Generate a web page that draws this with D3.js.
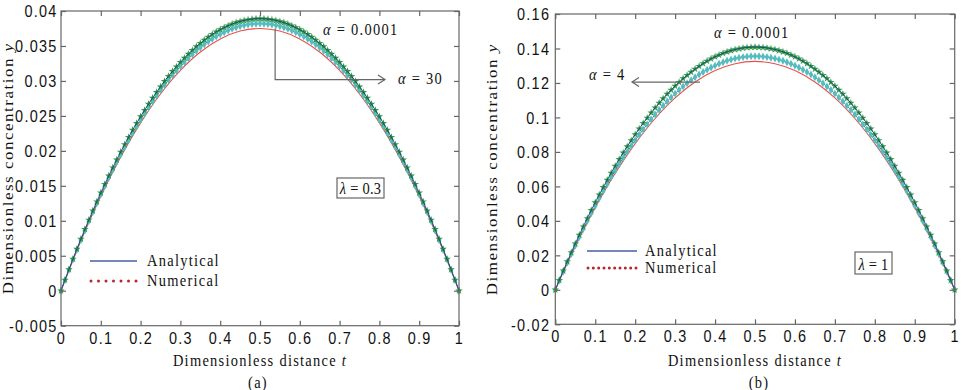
<!DOCTYPE html>
<html>
<head>
<meta charset="utf-8">
<script src="https://cdn.jsdelivr.net/npm/d3@7"></script>
<style>
  body { margin: 0; background: #fff; }
  svg { display: block; font-family: "Liberation Serif", "Times New Roman", serif; }
</style>
</head>
<body>
<div id="chart"></div>
<script>
/*------ data ------*/
const xTicks = [0, 0.1, 0.2, 0.3, 0.4, 0.5, 0.6, 0.7, 0.8, 0.9, 1];
const xTickLabels = ["0", "0.1", "0.2", "0.3", "0.4", "0.5", "0.6", "0.7", "0.8", "0.9", "1"];

const yTicksA = [-0.005, 0, 0.005, 0.01, 0.015, 0.02, 0.025, 0.03, 0.035, 0.04];
const yTickLabelsA = ["-0.005", "0", "0.005", "0.01", "0.015", "0.02", "0.025", "0.03", "0.035", "0.04"];
const yTicksB = [-0.02, 0, 0.02, 0.04, 0.06, 0.08, 0.1, 0.12, 0.14, 0.16];
const yTickLabelsB = ["-0.02", "0", "0.02", "0.04", "0.06", "0.08", "0.1", "0.12", "0.14", "0.16"];

// (a) lambda = 0.3, numerical points at t = 0, 0.01, ... 1
const numTopA = [0, 0.00154, 0.00305, 0.00453, 0.00598, 0.00739, 0.00878, 0.01013, 0.01145, 0.01274, 0.01400,
  0.01523, 0.01643, 0.01760, 0.01873, 0.01984, 0.02091, 0.02196, 0.02297, 0.02395, 0.02490,
  0.02581, 0.02670, 0.02756, 0.02838, 0.02918, 0.02994, 0.03067, 0.03137, 0.03204, 0.03268,
  0.03328, 0.03386, 0.03440, 0.03492, 0.03540, 0.03585, 0.03627, 0.03666, 0.03702, 0.03734,
  0.03764, 0.03790, 0.03814, 0.03834, 0.03851, 0.03865, 0.03876, 0.03884, 0.03888, 0.03890,
  0.03888, 0.03884, 0.03876, 0.03865, 0.03851, 0.03834, 0.03814, 0.03790, 0.03764, 0.03734,
  0.03702, 0.03666, 0.03627, 0.03585, 0.03540, 0.03492, 0.03440, 0.03386, 0.03328, 0.03268,
  0.03204, 0.03137, 0.03067, 0.02994, 0.02918, 0.02838, 0.02756, 0.02670, 0.02581, 0.02490,
  0.02395, 0.02297, 0.02196, 0.02091, 0.01984, 0.01873, 0.01760, 0.01643, 0.01523, 0.01400,
  0.01274, 0.01145, 0.01013, 0.00878, 0.00739, 0.00598, 0.00453, 0.00305, 0.00154, 0];
const numMidA = [0, 0.00151, 0.00299, 0.00445, 0.00587, 0.00726, 0.00862, 0.00995, 0.01125, 0.01251, 0.01375,
  0.01496, 0.01614, 0.01728, 0.01840, 0.01948, 0.02054, 0.02156, 0.02255, 0.02352, 0.02445,
  0.02535, 0.02622, 0.02706, 0.02787, 0.02865, 0.02940, 0.03012, 0.03080, 0.03146, 0.03209,
  0.03268, 0.03325, 0.03378, 0.03429, 0.03476, 0.03521, 0.03562, 0.03600, 0.03635, 0.03667,
  0.03696, 0.03722, 0.03745, 0.03765, 0.03782, 0.03796, 0.03806, 0.03814, 0.03818, 0.03820,
  0.03818, 0.03814, 0.03806, 0.03796, 0.03782, 0.03765, 0.03745, 0.03722, 0.03696, 0.03667,
  0.03635, 0.03600, 0.03562, 0.03521, 0.03476, 0.03429, 0.03378, 0.03325, 0.03268, 0.03209,
  0.03146, 0.03080, 0.03012, 0.02940, 0.02865, 0.02787, 0.02706, 0.02622, 0.02535, 0.02445,
  0.02352, 0.02255, 0.02156, 0.02054, 0.01948, 0.01840, 0.01728, 0.01614, 0.01496, 0.01375,
  0.01251, 0.01125, 0.00995, 0.00862, 0.00726, 0.00587, 0.00445, 0.00299, 0.00151, 0];
// analytical alpha = 30, t = 0, 0.05, ... 1
const anaLowA = [0, 0.00713, 0.0135, 0.01913, 0.024, 0.02813, 0.0315, 0.03413, 0.036, 0.03713, 0.0375,
  0.03713, 0.036, 0.03413, 0.0315, 0.02813, 0.024, 0.01913, 0.0135, 0.00713, 0];

// (b) lambda = 1
const numTopB = [0, 0.00558, 0.01104, 0.01639, 0.02163, 0.02675, 0.03176, 0.03666, 0.04145, 0.04613, 0.05069,
  0.05514, 0.05947, 0.06370, 0.06781, 0.07181, 0.07569, 0.07947, 0.08313, 0.08668, 0.09011,
  0.09343, 0.09665, 0.09974, 0.10273, 0.10560, 0.10836, 0.11101, 0.11354, 0.11596, 0.11827,
  0.12047, 0.12255, 0.12452, 0.12638, 0.12813, 0.12976, 0.13128, 0.13269, 0.13399, 0.13517,
  0.13624, 0.13720, 0.13804, 0.13877, 0.13939, 0.13990, 0.14029, 0.14057, 0.14074, 0.14080,
  0.14074, 0.14057, 0.14029, 0.13990, 0.13939, 0.13877, 0.13804, 0.13720, 0.13624, 0.13517,
  0.13399, 0.13269, 0.13128, 0.12976, 0.12813, 0.12638, 0.12452, 0.12255, 0.12047, 0.11827,
  0.11596, 0.11354, 0.11101, 0.10836, 0.10560, 0.10273, 0.09974, 0.09665, 0.09343, 0.09011,
  0.08668, 0.08313, 0.07947, 0.07569, 0.07181, 0.06781, 0.06370, 0.05947, 0.05514, 0.05069,
  0.04613, 0.04145, 0.03666, 0.03176, 0.02675, 0.02163, 0.01639, 0.01104, 0.00558, 0];
const numMidB = [0, 0.00537, 0.01062, 0.01577, 0.02081, 0.02575, 0.03057, 0.03528, 0.03989, 0.04439, 0.04878,
  0.05306, 0.05724, 0.06130, 0.06526, 0.06911, 0.07284, 0.07648, 0.08000, 0.08341, 0.08672,
  0.08992, 0.09301, 0.09599, 0.09886, 0.10163, 0.10428, 0.10683, 0.10927, 0.11160, 0.11382,
  0.11593, 0.11794, 0.11984, 0.12162, 0.12331, 0.12488, 0.12634, 0.12770, 0.12894, 0.13008,
  0.13111, 0.13203, 0.13284, 0.13355, 0.13415, 0.13463, 0.13501, 0.13528, 0.13545, 0.13550,
  0.13545, 0.13528, 0.13501, 0.13463, 0.13415, 0.13355, 0.13284, 0.13203, 0.13111, 0.13008,
  0.12894, 0.12770, 0.12634, 0.12488, 0.12331, 0.12162, 0.11984, 0.11794, 0.11593, 0.11382,
  0.11160, 0.10927, 0.10683, 0.10428, 0.10163, 0.09886, 0.09599, 0.09301, 0.08992, 0.08672,
  0.08341, 0.08000, 0.07648, 0.07284, 0.06911, 0.06526, 0.06130, 0.05724, 0.05306, 0.04878,
  0.04439, 0.03989, 0.03528, 0.03057, 0.02575, 0.02081, 0.01577, 0.01062, 0.00537, 0];
const anaLowB = [0, 0.02518, 0.0477, 0.06758, 0.0848, 0.09938, 0.1113, 0.12058, 0.1272, 0.13118, 0.1325,
  0.13118, 0.1272, 0.12058, 0.1113, 0.09938, 0.0848, 0.06758, 0.0477, 0.02518, 0];

/*------ look ------*/
const width = 962, height = 390;
const SX = 0.85, FS = 17, LS = 1.5;      // text is squeezed horizontally in the original
const frameCol = "#666", textCol = "#111";

const svg = d3.select("#chart").append("svg")
  .attr("width", width).attr("height", height);

// text helper: parts = [[string, italic], ...]
function label(g, x, y, parts, anchor, rotate, ls) {
  const t = g.append("text")
    .attr("transform", "translate(" + x + "," + y + ") scale(" + SX + ",1)" + (rotate ? " rotate(-90)" : ""))
    .attr("text-anchor", anchor || "start")
    .style("font-size", FS + "px")
    .style("letter-spacing", (ls == null ? LS : ls) + "px")
    .attr("fill", textCol);
  parts.forEach(p => t.append("tspan").text(p[0]).style("font-style", p[1] ? "italic" : null));
  return t;
}

function drawPanel(cfg) {
  const g = svg.append("g");
  const x = d3.scaleLinear().domain([0, 1]).range(cfg.xRange);
  const y = d3.scaleLinear().domain(cfg.yDomain).range(cfg.yRange);
  const [y0, y1] = cfg.yDomain;

  /*--- curves ---*/
  const line = arr => d3.line()
      .x((d, i) => x(i / (arr.length - 1)))
      .y(d => y(d))
      .curve(d3.curveCatmullRom)(arr);

  g.append("path").attr("d", line(cfg.low))
    .attr("fill", "none").attr("stroke", "#e8504a").attr("stroke-width", 1.1);
  g.append("path").attr("d", line(cfg.mid))
    .attr("fill", "none").attr("stroke", "#4d7fc0").attr("stroke-width", 1);

  g.append("g").selectAll("path").data(cfg.mid).enter().append("path")
    .attr("d", d3.symbol(d3.symbolDiamond, 18))
    .attr("transform", (d, i) => "translate(" + x(i / (cfg.mid.length - 1)) + "," + y(d) + ")")
    .attr("fill", "#55bcbf");

  g.append("g").selectAll("path").data(cfg.top).enter().append("path")
    .attr("d", d3.symbol(d3.symbolStar, 18))
    .attr("transform", (d, i) => "translate(" + x(i / (cfg.top.length - 1)) + "," + y(d) + ")")
    .attr("fill", "#2f9a48");
  g.append("path").attr("d", line(cfg.top))
    .attr("fill", "none").attr("stroke", "#1d3f7a").attr("stroke-width", 0.9);

  /*--- frame and axes ---*/
  g.append("rect")
    .attr("x", x(0)).attr("y", y(y1))
    .attr("width", x(1) - x(0)).attr("height", y(y0) - y(y1))
    .attr("fill", "none").attr("stroke", frameCol).attr("stroke-width", 1.2);

  const axB = g.append("g").attr("transform", "translate(0," + y(y0) + ")")
    .call(d3.axisBottom(x).tickValues(xTicks).tickSize(-5).tickPadding(6)
      .tickFormat((d, i) => xTickLabels[i]));
  const axT = g.append("g").attr("transform", "translate(0," + y(y1) + ")")
    .call(d3.axisTop(x).tickValues(xTicks).tickSize(-5).tickFormat(""));
  const axL = g.append("g").attr("transform", "translate(" + x(0) + ",0)")
    .call(d3.axisLeft(y).tickValues(cfg.yTicks).tickSize(-5).tickPadding(cfg.yPad)
      .tickFormat((d, i) => cfg.yTickLabels[i]));
  const axR = g.append("g").attr("transform", "translate(" + x(1) + ",0)")
    .call(d3.axisRight(y).tickValues(cfg.yTicks).tickSize(-5).tickFormat(""));

  [axB, axT, axL, axR].forEach(a => {
    a.select(".domain").remove();
    a.selectAll("line").attr("stroke", frameCol).attr("stroke-width", 1.2);
    a.selectAll("text")
      .attr("font-family", null)
      .style("font-size", FS + "px")
      .style("letter-spacing", LS + "px")
      .attr("fill", textCol)
      .attr("transform", "scale(" + SX + ",1)");
  });
  axL.selectAll("text").attr("dy", "0.34em");

  /*--- axis titles ---*/
  label(g, (x(0) + x(1)) / 2, 366, [["Dimensionless distance ", false], ["t", true]], "middle");
  label(g, cfg.yTitleX, (y(y0) + y(y1)) / 2, [["Dimensionless concentration ", false], ["y", true]], "middle", true);
  label(g, cfg.capX, 388, [[cfg.caption, false]], "middle");

  /*--- legend ---*/
  const lg = cfg.legend;
  g.append("line").attr("x1", lg.x0).attr("x2", lg.x1).attr("y1", lg.y1).attr("y2", lg.y1)
    .attr("stroke", "#4a5ca8").attr("stroke-width", 1.4);
  g.append("g").selectAll("circle").data(d3.range(lg.dots)).enter().append("circle")
    .attr("cx", i => lg.x0 + 1 + i * (lg.x1 - lg.x0 - 2) / (lg.dots - 1))
    .attr("cy", lg.y2).attr("r", 1.5).attr("fill", "#b8262a");
  label(g, lg.tx, lg.y1 + 5, [["Analytical", false]]);
  label(g, lg.tx, lg.y2 + 5, [["Numerical", false]]);

  /*--- lambda box ---*/
  const b = cfg.box;
  g.append("rect").attr("x", b.x).attr("y", b.y).attr("width", b.w).attr("height", b.h)
    .attr("fill", "#fff").attr("stroke", frameCol).attr("stroke-width", 1.2);
  label(g, b.x + b.w / 2, b.y + b.h - 4, [["λ", true], [" = " + b.text, false]], "middle", false, 0.3);

  return {g, x, y};
}

function arrowHead(g, px, py, dir) {
  // open chevron, dir = 1 points right, -1 points left
  g.append("path")
    .attr("d", "M" + (px - 7 * dir) + "," + (py - 4.5) + "L" + px + "," + py + "L" + (px - 7 * dir) + "," + (py + 4.5))
    .attr("fill", "none").attr("stroke", frameCol).attr("stroke-width", 1.2);
}

/*------ panel (a) ------*/
const A = drawPanel({
  xRange: [61, 459], yRange: [325.7, 11], yDomain: [-0.005, 0.04],
  yTicks: yTicksA, yTickLabels: yTickLabelsA, yPad: 4,
  top: numTopA, mid: numMidA, low: anaLowA,
  yTitleX: 13, capX: 258, caption: "(a)",
  legend: {x0: 90, x1: 137, y1: 261, y2: 281, dots: 7, tx: 147},
  box: {x: 337, y: 178, w: 47, h: 20, text: "0.3"}
});
label(A.g, 323, 35, [["α", true], [" = 0.0001", false]]);
label(A.g, 398, 84, [["α", true], [" = 30", false]]);
A.g.append("path")
  .attr("d", "M" + A.x(0.538) + "," + A.y(0.0375) + "V" + A.y(0.0302) + "H" + A.x(0.814))
  .attr("fill", "none").attr("stroke", frameCol).attr("stroke-width", 1.2);
arrowHead(A.g, A.x(0.814), A.y(0.0302), 1);

/*------ panel (b) ------*/
const B = drawPanel({
  xRange: [555.3, 954.7], yRange: [324.3, 14], yDomain: [-0.02, 0.16],
  yTicks: yTicksB, yTickLabels: yTickLabelsB, yPad: 6,
  top: numTopB, mid: numMidB, low: anaLowB,
  yTitleX: 497, capX: 759, caption: "(b)",
  legend: {x0: 587, x1: 637, y1: 251, y2: 268, dots: 10, tx: 645},
  box: {x: 855, y: 252, w: 37, h: 22, text: "1"}
});
label(B.g, 714, 38, [["α", true], [" = 0.0001", false]]);
label(B.g, 589, 80, [["α", true], [" = 4", false]]);
B.g.append("path")
  .attr("d", "M" + B.x(0.362) + "," + B.y(0.1205) + "H" + B.x(0.192))
  .attr("fill", "none").attr("stroke", frameCol).attr("stroke-width", 1.2);
arrowHead(B.g, B.x(0.192), B.y(0.1205), -1);
</script>
</body>
</html>
